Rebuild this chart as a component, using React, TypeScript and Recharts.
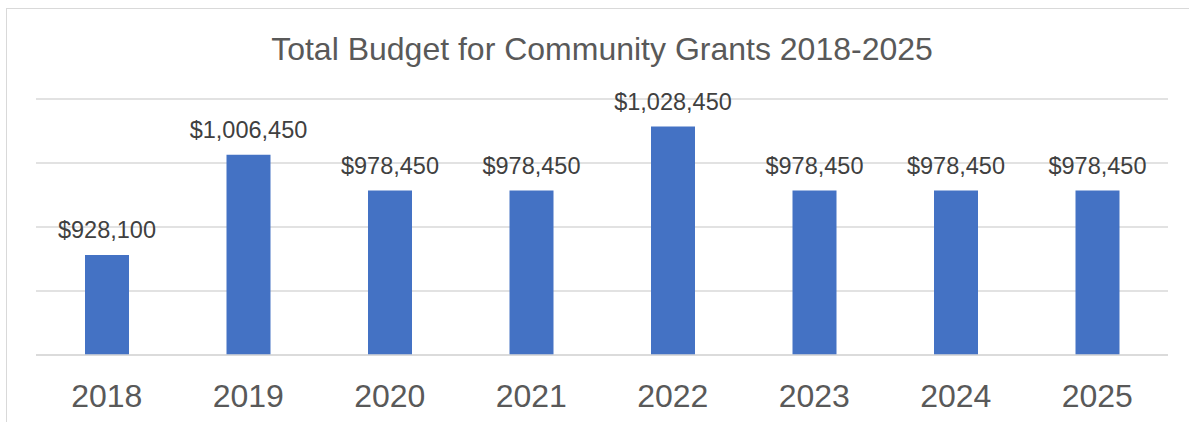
import React from 'react';
import { BarChart, Bar, XAxis, YAxis, CartesianGrid, LabelList } from 'recharts';

const years = ['2018', '2019', '2020', '2021', '2022', '2023', '2024', '2025'];
const budgets = [928100, 1006450, 978450, 978450, 1028450, 978450, 978450, 978450];
const yTicks = [850000, 900000, 950000, 1000000, 1050000];
const title = 'Total Budget for Community Grants 2018-2025';

const data = years.map((y, i) => ({ year: y, value: budgets[i] }));

const FONT = '"Liberation Sans", Arial, Helvetica, sans-serif';

const fmt = (v: any) => '$' + Number(v).toLocaleString('en-US');

export default function App() {
  return (
    <div style={{ position: 'absolute', left: 0, top: 0, width: 1189, height: 422, overflow: 'hidden', background: '#fff', fontFamily: FONT }}>
      <div style={{ position: 'absolute', left: 6, top: 8, width: 1300, height: 500, border: '1.5px solid #d9d9d9', boxSizing: 'border-box' }} />
      <BarChart
        width={1189}
        height={422}
        data={data}
        margin={{ top: 99, right: 21, left: 36, bottom: 27 }}
        style={{ position: 'absolute', left: 0, top: 0 }}
      >
        <CartesianGrid vertical={false} stroke="#d9d9d9" strokeWidth={1.5} />
        <YAxis hide width={0} domain={[850000, 1050000]} ticks={yTicks} allowDataOverflow />
        <XAxis
          dataKey="year"
          height={40}
          axisLine={{ stroke: '#d9d9d9', strokeWidth: 1.5 }}
          tickLine={false}
          tickSize={0}
          tickMargin={29}
          tick={{ fill: '#595959', fontSize: 32, fontFamily: FONT }}
          interval={0}
        />
        <Bar dataKey="value" fill="#4472C4" barSize={44} isAnimationActive={false}>
          <LabelList
            dataKey="value"
            position="top"
            offset={17}
            formatter={fmt}
            style={{ fill: '#404040', fontSize: 23.5, fontFamily: FONT }}
          />
        </Bar>
      </BarChart>
      <svg width={1189} height={422} style={{ position: 'absolute', left: 0, top: 0, pointerEvents: 'none' }}>
        <text x={602} y={60} textAnchor="middle" fill="#595959" fontSize={32} fontFamily={FONT}>
          {title}
        </text>
      </svg>
    </div>
  );
}
